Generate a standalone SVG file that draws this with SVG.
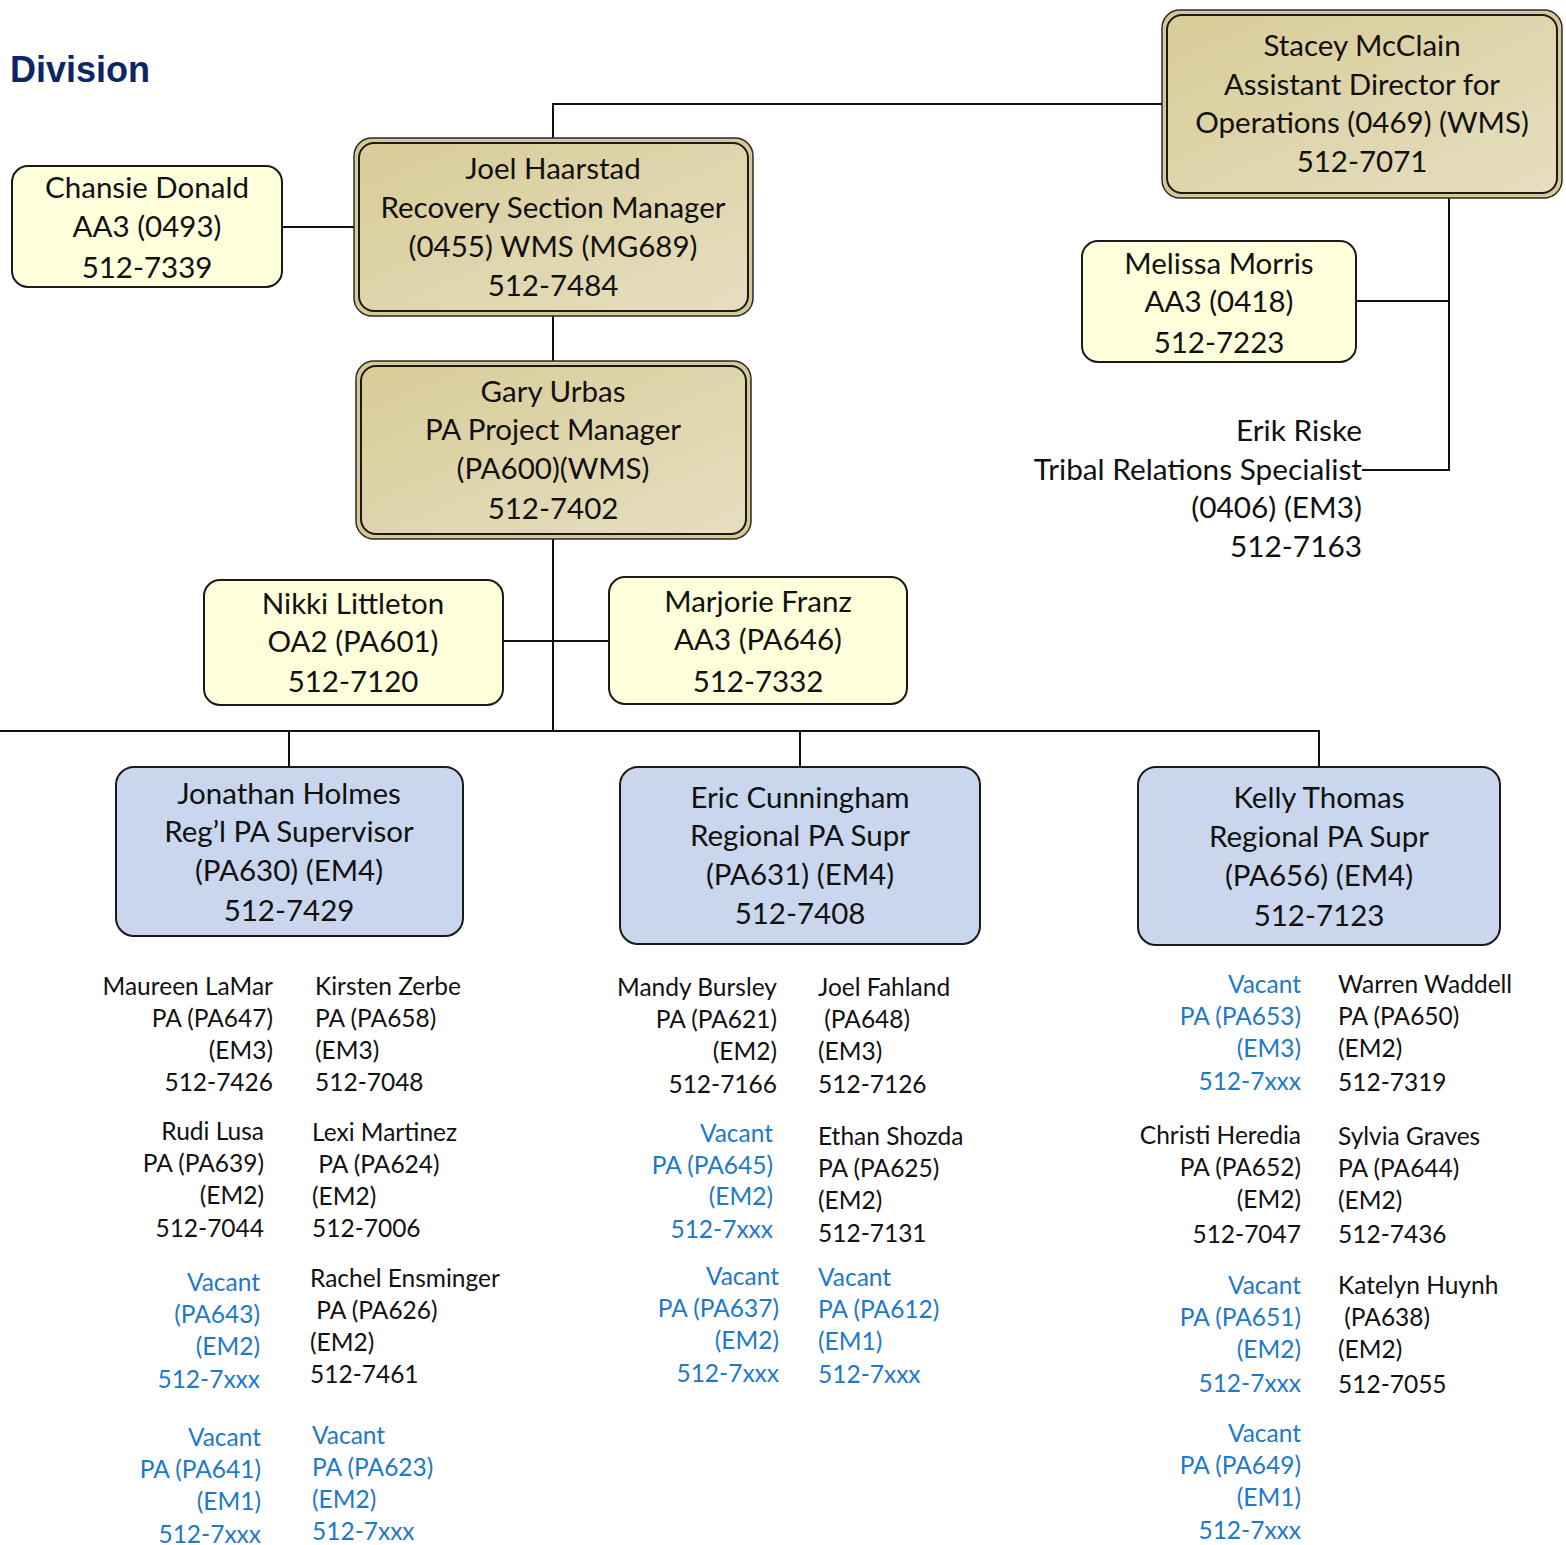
<svg xmlns="http://www.w3.org/2000/svg" width="1566" height="1545" viewBox="0 0 1566 1545">
<defs>
<linearGradient id="tan" x1="0" y1="0" x2="1" y2="1">
<stop offset="0" stop-color="#d8cc97"/>
<stop offset="1" stop-color="#e6dec0"/>
</linearGradient>
</defs>
<style>
text{font-family:Lato,"Liberation Sans",sans-serif;fill:#111}
.bx text{font-size:29.5px;text-anchor:middle}
.outer{fill:#d6c994;stroke:#2a2a2a;stroke-width:1.5}
.inner{fill:url(#tan);stroke:#1a1a1a;stroke-width:2}
.yel{fill:#ffffdc;stroke:#1a1a1a;stroke-width:2}
.blu{fill:#c9d6ee;stroke:#1a1a1a;stroke-width:2}
.ln{fill:none;stroke:#111;stroke-width:2}
.s text{font-size:24.5px}
.r text{text-anchor:end}
.v text{fill:#1f78c8}
.erik text{font-size:29.8px;text-anchor:end}
</style>
<text x="10" y="82" style="font-family:'Liberation Sans',sans-serif;font-weight:bold;font-size:36px;fill:#0c2667">Division</text>
<g id="connectors">
<path class="ln" d="M553,138 V104 H1162"/>
<path class="ln" d="M282,227 H354"/>
<path class="ln" d="M553,316 V361"/>
<path class="ln" d="M1449,198 V470 H1362"/>
<path class="ln" d="M1356,301 H1449"/>
<path class="ln" d="M553,539 V731"/>
<path class="ln" d="M503,641 H609"/>
<path class="ln" d="M0,731 H1319 V767"/>
<path class="ln" d="M289,731 V767"/>
<path class="ln" d="M800,731 V767"/>
</g>
<g id="stacey" class="bx">
<rect class="outer" x="1162" y="10" width="400" height="188" rx="18"/>
<rect class="inner" x="1167" y="15" width="390" height="178" rx="15"/>
<text x="1362" y="56">Stacey McClain</text>
<text x="1362" y="95">Assistant Director for</text>
<text x="1362" y="133">Operations (0469) (WMS)</text>
<text x="1362" y="172">512-7071</text>
</g>
<g id="joel" class="bx">
<rect class="outer" x="354" y="138" width="399" height="178" rx="18"/>
<rect class="inner" x="359" y="143" width="389" height="168" rx="15"/>
<text x="553" y="179">Joel Haarstad</text>
<text x="553" y="218">Recovery Section Manager</text>
<text x="553" y="257">(0455) WMS (MG689)</text>
<text x="553" y="296">512-7484</text>
</g>
<g id="chansie" class="bx">
<rect class="yel" x="12" y="166" width="270" height="121" rx="16"/>
<text x="147" y="198">Chansie Donald</text>
<text x="147" y="237">AA3 (0493)</text>
<text x="147" y="278">512-7339</text>
</g>
<g id="melissa" class="bx">
<rect class="yel" x="1082" y="241" width="274" height="121" rx="16"/>
<text x="1219" y="274">Melissa Morris</text>
<text x="1219" y="312">AA3 (0418)</text>
<text x="1219" y="353">512-7223</text>
</g>
<g id="erik" class="erik">
<text x="1362" y="441">Erik Riske</text>
<text x="1362" y="480">Tribal Relations Specialist</text>
<text x="1362" y="518">(0406) (EM3)</text>
<text x="1362" y="557">512-7163</text>
</g>
<g id="gary" class="bx">
<rect class="outer" x="356" y="361" width="395" height="178" rx="18"/>
<rect class="inner" x="361" y="366" width="385" height="168" rx="15"/>
<text x="553" y="402">Gary Urbas</text>
<text x="553" y="440">PA Project Manager</text>
<text x="553" y="479">(PA600)(WMS)</text>
<text x="553" y="519">512-7402</text>
</g>
<g id="nikki" class="bx">
<rect class="yel" x="204" y="580" width="299" height="125" rx="16"/>
<text x="353" y="614">Nikki Littleton</text>
<text x="353" y="652">OA2 (PA601)</text>
<text x="353" y="692">512-7120</text>
</g>
<g id="marjorie" class="bx">
<rect class="yel" x="609" y="577" width="298" height="127" rx="16"/>
<text x="758" y="612">Marjorie Franz</text>
<text x="758" y="650">AA3 (PA646)</text>
<text x="758" y="692">512-7332</text>
</g>
<g id="jonathan" class="bx">
<rect class="blu" x="116" y="767" width="347" height="169" rx="18"/>
<text x="289" y="804">Jonathan Holmes</text>
<text x="289" y="842">Reg’l PA Supervisor</text>
<text x="289" y="881">(PA630) (EM4)</text>
<text x="289" y="921">512-7429</text>
</g>
<g id="eric" class="bx">
<rect class="blu" x="620" y="767" width="360" height="177" rx="18"/>
<text x="800" y="808">Eric Cunningham</text>
<text x="800" y="846">Regional PA Supr</text>
<text x="800" y="885">(PA631) (EM4)</text>
<text x="800" y="924">512-7408</text>
</g>
<g id="kelly" class="bx">
<rect class="blu" x="1138" y="767" width="362" height="178" rx="18"/>
<text x="1319" y="808">Kelly Thomas</text>
<text x="1319" y="847">Regional PA Supr</text>
<text x="1319" y="886">(PA656) (EM4)</text>
<text x="1319" y="926">512-7123</text>
</g>
<g id="maureen" class="s r">
<text x="273" y="995">Maureen LaMar</text>
<text x="273" y="1027">PA (PA647)</text>
<text x="273" y="1059">(EM3)</text>
<text x="273" y="1091">512-7426</text>
</g>
<g id="rudi" class="s r">
<text x="264" y="1140">Rudi Lusa</text>
<text x="264" y="1172">PA (PA639)</text>
<text x="264" y="1204">(EM2)</text>
<text x="264" y="1237">512-7044</text>
</g>
<g id="vac643" class="s r v">
<text x="260" y="1291">Vacant</text>
<text x="260" y="1323">(PA643)</text>
<text x="260" y="1355">(EM2)</text>
<text x="260" y="1388">512-7xxx</text>
</g>
<g id="vac641" class="s r v">
<text x="261" y="1446">Vacant</text>
<text x="261" y="1478">PA (PA641)</text>
<text x="261" y="1510">(EM1)</text>
<text x="261" y="1543">512-7xxx</text>
</g>
<g id="kirsten" class="s">
<text x="315" y="995">Kirsten Zerbe</text>
<text x="315" y="1027">PA (PA658)</text>
<text x="315" y="1059">(EM3)</text>
<text x="315" y="1091">512-7048</text>
</g>
<g id="lexi" class="s">
<text x="312" y="1141">Lexi Martinez</text>
<text x="312" y="1173" xml:space="preserve"> PA (PA624)</text>
<text x="312" y="1205">(EM2)</text>
<text x="312" y="1237">512-7006</text>
</g>
<g id="rachel" class="s">
<text x="310" y="1287">Rachel Ensminger</text>
<text x="310" y="1319" xml:space="preserve"> PA (PA626)</text>
<text x="310" y="1351">(EM2)</text>
<text x="310" y="1383">512-7461</text>
</g>
<g id="vac623" class="s v">
<text x="312" y="1444">Vacant</text>
<text x="312" y="1476">PA (PA623)</text>
<text x="312" y="1508">(EM2)</text>
<text x="312" y="1540">512-7xxx</text>
</g>
<g id="mandy" class="s r">
<text x="777" y="996">Mandy Bursley</text>
<text x="777" y="1028">PA (PA621)</text>
<text x="777" y="1060">(EM2)</text>
<text x="777" y="1093">512-7166</text>
</g>
<g id="vac645" class="s r v">
<text x="773" y="1142">Vacant</text>
<text x="773" y="1174">PA (PA645)</text>
<text x="773" y="1205">(EM2)</text>
<text x="773" y="1238">512-7xxx</text>
</g>
<g id="vac637" class="s r v">
<text x="779" y="1285">Vacant</text>
<text x="779" y="1317">PA (PA637)</text>
<text x="779" y="1349">(EM2)</text>
<text x="779" y="1382">512-7xxx</text>
</g>
<g id="joelf" class="s">
<text x="818" y="996">Joel Fahland</text>
<text x="818" y="1028" xml:space="preserve"> (PA648)</text>
<text x="818" y="1060">(EM3)</text>
<text x="818" y="1093">512-7126</text>
</g>
<g id="ethan" class="s">
<text x="818" y="1145">Ethan Shozda</text>
<text x="818" y="1177">PA (PA625)</text>
<text x="818" y="1209">(EM2)</text>
<text x="818" y="1242">512-7131</text>
</g>
<g id="vac612" class="s v">
<text x="818" y="1286">Vacant</text>
<text x="818" y="1318">PA (PA612)</text>
<text x="818" y="1350">(EM1)</text>
<text x="818" y="1383">512-7xxx</text>
</g>
<g id="vac653" class="s r v">
<text x="1301" y="993">Vacant</text>
<text x="1301" y="1025">PA (PA653)</text>
<text x="1301" y="1057">(EM3)</text>
<text x="1301" y="1090">512-7xxx</text>
</g>
<g id="christi" class="s r">
<text x="1301" y="1144">Christi Heredia</text>
<text x="1301" y="1176">PA (PA652)</text>
<text x="1301" y="1208">(EM2)</text>
<text x="1301" y="1243">512-7047</text>
</g>
<g id="vac651" class="s r v">
<text x="1301" y="1294">Vacant</text>
<text x="1301" y="1326">PA (PA651)</text>
<text x="1301" y="1358">(EM2)</text>
<text x="1301" y="1392">512-7xxx</text>
</g>
<g id="vac649" class="s r v">
<text x="1301" y="1442">Vacant</text>
<text x="1301" y="1474">PA (PA649)</text>
<text x="1301" y="1506">(EM1)</text>
<text x="1301" y="1539">512-7xxx</text>
</g>
<g id="warren" class="s">
<text x="1338" y="993">Warren Waddell</text>
<text x="1338" y="1025">PA (PA650)</text>
<text x="1338" y="1057">(EM2)</text>
<text x="1338" y="1091">512-7319</text>
</g>
<g id="sylvia" class="s">
<text x="1338" y="1145">Sylvia Graves</text>
<text x="1338" y="1177">PA (PA644)</text>
<text x="1338" y="1209">(EM2)</text>
<text x="1338" y="1243">512-7436</text>
</g>
<g id="katelyn" class="s">
<text x="1338" y="1294">Katelyn Huynh</text>
<text x="1338" y="1326" xml:space="preserve"> (PA638)</text>
<text x="1338" y="1358">(EM2)</text>
<text x="1338" y="1393">512-7055</text>
</g>
</svg>
